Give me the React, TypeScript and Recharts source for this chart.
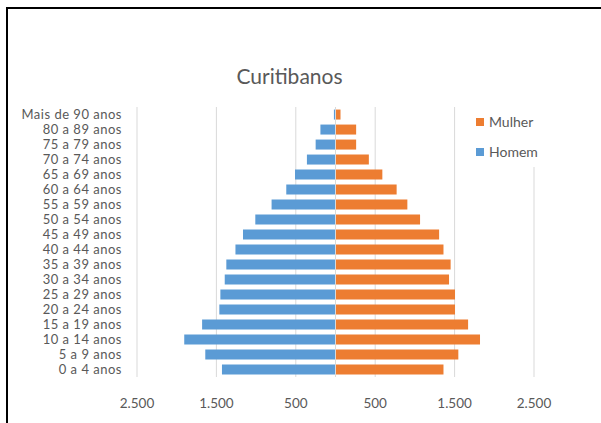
import { Bar, BarChart, CartesianGrid, ReferenceLine, XAxis, YAxis } from "recharts";

const faixas = [
  "0 a 4 anos",
  "5 a 9 anos",
  "10 a 14 anos",
  "15 a 19 anos",
  "20 a 24 anos",
  "25 a 29 anos",
  "30 a 34 anos",
  "35 a 39 anos",
  "40 a 44 anos",
  "45 a 49 anos",
  "50 a 54 anos",
  "55 a 59 anos",
  "60 a 64 anos",
  "65 a 69 anos",
  "70 a 74 anos",
  "75 a 79 anos",
  "80 a 89 anos",
  "Mais de 90 anos",
];
const homem = [1430, 1640, 1905, 1680, 1463, 1450, 1395, 1375, 1260, 1165, 1010, 805, 620, 510, 360, 250, 190, 20];
const mulher = [1360, 1547, 1820, 1670, 1505, 1505, 1430, 1450, 1360, 1305, 1065, 905, 770, 590, 420, 260, 260, 63];
const xTicks = [-2500, -1500, -500, 500, 1500, 2500];

const data = faixas.map((faixa, i) => ({ faixa, homem: -homem[i], mulher: mulher[i] }));

const FONT = "Lato, 'Open Sans', sans-serif";
const AZUL = "#5B9BD5";
const LARANJA = "#ED7D31";

function fmt(v: number) {
  return Math.abs(v).toLocaleString("pt-BR");
}

function Legenda() {
  const items = [
    { label: "Mulher", color: LARANJA },
    { label: "Homem", color: AZUL },
  ];
  return (
    <div
      style={{
        position: "absolute",
        left: 465,
        top: 107,
        width: 100,
        height: 60,
        background: "#fff",
        fontFamily: FONT,
      }}
    >
      {items.map((it, i) => (
        <div
          key={it.label}
          style={{
            position: "absolute",
            left: 11,
            top: 6 + i * 30,
            display: "flex",
            alignItems: "center",
            fontSize: 14,
            color: "#595959",
          }}
        >
          <span style={{ width: 8, height: 8, background: it.color, marginRight: 5 }} />
          {it.label}
        </div>
      ))}
    </div>
  );
}

export default function App() {
  return (
    <div style={{ position: "absolute", left: 0, top: 0, width: 601, height: 423, background: "#fff" }}>
      <div
        style={{
          position: "absolute",
          left: 6,
          top: 7,
          width: 595,
          height: 416,
          borderLeft: "2px solid #000",
          borderTop: "2px solid #000",
          boxSizing: "border-box",
        }}
      />
      <div
        style={{
          position: "absolute",
          left: 0,
          width: 579,
          top: 63,
          textAlign: "center",
          fontFamily: FONT,
          fontSize: 21,
          lineHeight: "26px",
          color: "#595959",
        }}
      >
        Curitibanos
      </div>
      <BarChart
        width={601}
        height={423}
        data={data}
        layout="vertical"
        stackOffset="sign"
        barCategoryGap="17%"
        margin={{ top: 107, right: 67, left: 10, bottom: 16 }}
        style={{ position: "absolute", left: 0, top: 0 }}
      >
        <CartesianGrid horizontal={false} stroke="#d9d9d9" />
        <XAxis
          type="number"
          domain={[-2500, 2500]}
          ticks={xTicks}
          tickFormatter={fmt}
          axisLine={false}
          tickLine={false}
          tickMargin={15}
          height={30}
          tick={{ fill: "#595959", fontSize: 13.5, fontFamily: FONT }}
        />
        <YAxis
          type="category"
          dataKey="faixa"
          reversed
          width={127}
          axisLine={false}
          tickLine={false}
          tickMargin={9}
          interval={0}
          tick={{ fill: "#595959", fontSize: 13, fontFamily: FONT, letterSpacing: 0.5 }}
        />
        <ReferenceLine x={0} stroke="#d9d9d9" />
        <Bar dataKey="mulher" name="Mulher" stackId="p" fill={LARANJA} isAnimationActive={false} />
        <Bar dataKey="homem" name="Homem" stackId="p" fill={AZUL} isAnimationActive={false} />
      </BarChart>
      <Legenda />
    </div>
  );
}
